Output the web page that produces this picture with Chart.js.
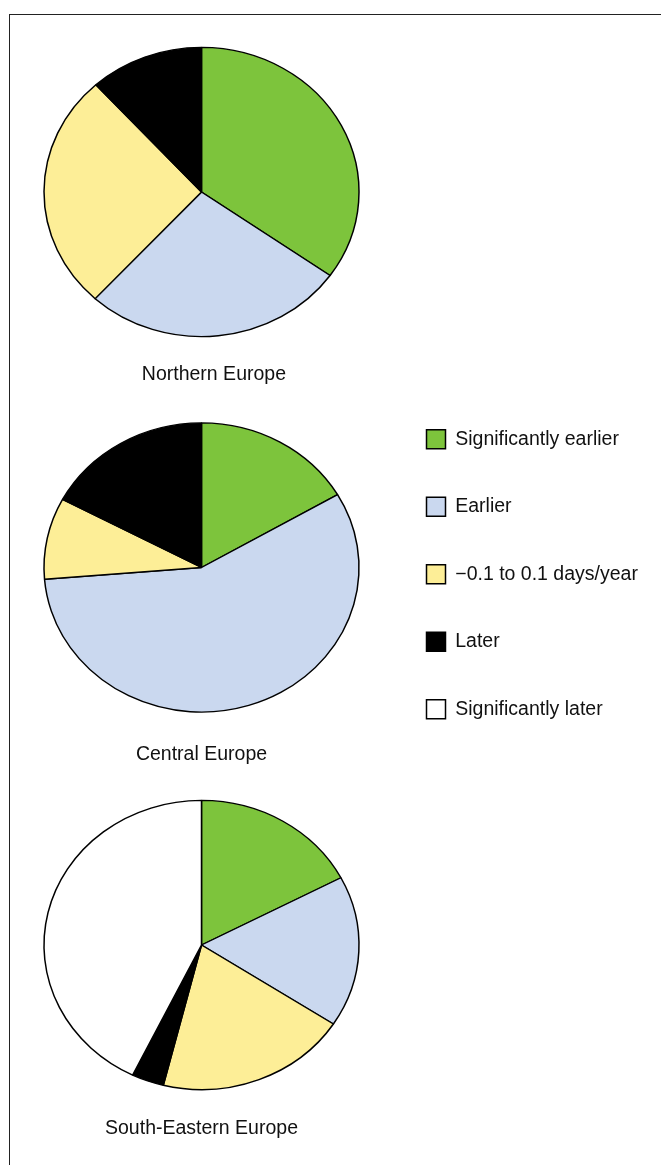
<!DOCTYPE html>
<html>
<head>
<meta charset="utf-8">
<script src="https://cdn.jsdelivr.net/npm/chart.js@4"></script>
<style>
  body { margin: 0; background: #fff; width: 661px; height: 1165px; position: relative; overflow: hidden; }
  .frame { position: absolute; left: 9px; top: 14px; right: -5px; bottom: -5px; border-top: 1px solid #222; border-left: 1px solid #222; }
  .box { position: absolute; left: 0; width: 661px; }
  #north { top: 0; height: 400px; }
  #central { top: 380px; height: 410px; }
  #south { top: 780px; height: 385px; }
</style>
</head>
<body>
<div class="frame"></div>
<div class="box" id="north"><canvas id="northChart"></canvas></div>
<div class="box" id="central"><canvas id="centralChart"></canvas></div>
<div class="box" id="south"><canvas id="southChart"></canvas></div>
<script>
const categories = [
  "Significantly earlier",
  "Earlier",
  "\u22120.1 to 0.1 days/year",
  "Later",
  "Significantly later",
];
const regions = ["Northern Europe", "Central Europe", "South-Eastern Europe"];

// share of species per trend class (%), clockwise from 12 o'clock
const northern = [34.8, 27.0, 26.5, 11.7, 0];
const central = [16.6, 57.1, 9.1, 17.2, 0];
const southEastern = [17.3, 16.9, 19.7, 3.3, 42.8];

const colors = ["#7dc43c", "#cad8ef", "#fdee97", "#000000", "#ffffff"];

Chart.defaults.font.family = "'Liberation Sans', Arial, sans-serif";
Chart.defaults.color = "#111";

// the original pies are slightly flattened
const squash = {
  id: "squash",
  beforeDatasetsDraw(chart) {
    const arc = chart.getDatasetMeta(0).data[0];
    const ctx = chart.ctx;
    ctx.save();
    ctx.translate(arc.x, arc.y);
    ctx.scale(1, 0.918);
    ctx.translate(-arc.x, -arc.y);
  },
  afterDatasetsDraw(chart) {
    chart.ctx.restore();
  },
};

function pie(id, values, padding, title, legend) {
  return new Chart(document.getElementById(id), {
    type: "pie",
    data: {
      labels: categories,
      datasets: [
        {
          data: values,
          backgroundColor: colors,
          borderColor: "#000",
          borderWidth: 1.5,
          clip: false,
        },
      ],
    },
    options: {
      responsive: true,
      maintainAspectRatio: false,
      animation: false,
      radius: 157.5,
      layout: { padding: padding },
      plugins: {
        tooltip: { enabled: false },
        legend: legend || { display: false },
        title: Object.assign(
          {
            display: true,
            position: "bottom",
            font: { size: 19.5, weight: "normal" },
            color: "#111",
          },
          title
        ),
      },
    },
    plugins: [squash],
  });
}

pie(
  "northChart",
  northern,
  { left: 117, right: 375, top: 29.5, bottom: 4.1 },
  { text: regions[0], align: "end", fullSize: false, padding: { top: 8, bottom: 10 } }
);

pie(
  "centralChart",
  central,
  { left: 24.5, right: 16.5, top: 1.5, bottom: 3.3 },
  { text: regions[1], fullSize: false, padding: { top: -10.2, bottom: 20 } },
  {
    display: true,
    position: "right",
    align: "start",
    maxWidth: 266,
    labels: {
      boxWidth: 19,
      boxHeight: 19,
      padding: 48,
      font: { size: 19.5 },
      color: "#111",
    },
  }
);

pie(
  "southChart",
  southEastern,
  { left: 0, right: 258, top: 1.4, bottom: 15 },
  { text: regions[2], padding: { top: 8, bottom: 10 } }
);
</script>
</body>
</html>
